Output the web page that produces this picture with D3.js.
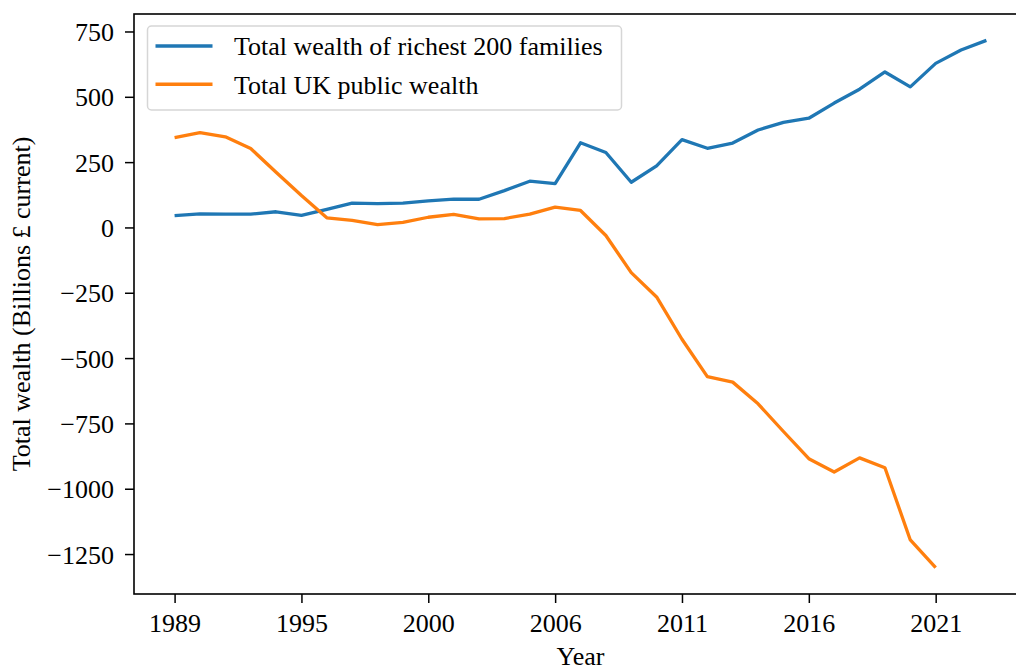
<!DOCTYPE html>
<html>
<head>
<meta charset="utf-8">
<script src="https://cdn.jsdelivr.net/npm/d3@7"></script>
<style>
  body { margin: 0; background: #fff; }
  svg { display: block; font-family: "Liberation Serif", "Times New Roman", serif; }
</style>
</head>
<body>
<div id="chart"></div>
<script>
// years on the x axis (plotted by index, every 5th labelled)
const years = [1989, 1990, 1991, 1992, 1993, 1995, 1996, 1997, 1998, 1999,
               2000, 2001, 2002, 2004, 2005, 2006, 2007, 2008, 2009, 2010,
               2011, 2012, 2013, 2014, 2015, 2016, 2017, 2018, 2019, 2020,
               2021, 2022, 2023];

// Billions £ current
const richest200 = [45, 52, 51, 51, 60, 46, 69, 93, 91, 93,
                    102, 108, 108, 141, 177, 168, 324, 287, 173, 236,
                    336, 303, 323, 373, 402, 418, 476, 529, 595, 538,
                    628, 679, 716];

const publicWealth = [344, 363, 347, 302, 211, 122, 37, 27, 11, 19,
                      39, 50, 33, 34, 51, 78, 65, -31, -173, -266,
                      -428, -571, -592, -675, -781, -885, -936, -882, -920, -1196,
                      -1302];

const yTicks = [750, 500, 250, 0, -250, -500, -750, -1000, -1250];
const seriesNames = ["Total wealth of richest 200 families", "Total UK public wealth"];
const colors = ["#1f77b4", "#ff7f0e"];

const width = 1016, height = 669;
const mLeft = 134, mRight = 1027, mTop = 14, mBottom = 594;
const fontSize = "26px";

const svg = d3.select("#chart").append("svg")
    .attr("width", width)
    .attr("height", height);

// matplotlib-like 5% margins
const n = years.length - 1;
const x = d3.scaleLinear()
    .domain([-0.05 * n, n * 1.05])
    .range([mLeft, mRight]);

const allVals = richest200.concat(publicWealth);
const yMin = d3.min(allVals), yMax = d3.max(allVals);
const pad = (yMax - yMin) * 0.05;
const y = d3.scaleLinear()
    .domain([yMin - pad, yMax + pad])
    .range([mBottom, mTop]);

const line = d3.line()
    .x((d, i) => x(i))
    .y(d => y(d));

svg.append("g")
    .selectAll("path")
    .data([richest200, publicWealth])
    .join("path")
    .attr("fill", "none")
    .attr("stroke", (d, i) => colors[i])
    .attr("stroke-width", 3.3)
    .attr("stroke-linejoin", "round")
    .attr("d", line);

// axes
const fmt = v => v < 0 ? "\u2212" + Math.abs(v) : String(v);

const xAxis = svg.append("g")
    .attr("transform", `translate(0,${mBottom})`)
    .call(d3.axisBottom(x)
        .tickValues(d3.range(0, years.length, 5))
        .tickFormat(i => years[i])
        .tickSize(9)
        .tickPadding(11));

const yAxis = svg.append("g")
    .attr("transform", `translate(${mLeft},0)`)
    .call(d3.axisLeft(y)
        .tickValues(yTicks)
        .tickFormat(fmt)
        .tickSize(9)
        .tickPadding(11));

[xAxis, yAxis].forEach(g => {
    g.select(".domain").remove();
    g.selectAll(".tick line").attr("stroke", "#000").attr("stroke-width", 1.5);
    g.selectAll(".tick text")
        .attr("fill", "#000")
        .style("font-size", fontSize)
        .style("font-family", "'Liberation Serif', serif");
});
yAxis.selectAll(".tick text").attr("dy", "0.35em");

// frame
svg.append("rect")
    .attr("x", mLeft)
    .attr("y", mTop)
    .attr("width", mRight - mLeft)
    .attr("height", mBottom - mTop)
    .attr("fill", "none")
    .attr("stroke", "#000")
    .attr("stroke-width", 1.6);

// axis labels
svg.append("text")
    .attr("x", (mLeft + mRight) / 2)
    .attr("y", 665)
    .attr("text-anchor", "middle")
    .style("font-size", fontSize)
    .text("Year");

svg.append("text")
    .attr("transform", `translate(30,${(mTop + mBottom) / 2}) rotate(-90)`)
    .attr("text-anchor", "middle")
    .style("font-size", fontSize)
    .text("Total wealth (Billions £ current)");

// legend
const legend = svg.append("g").attr("transform", "translate(147.5,26)");
legend.append("rect")
    .attr("width", 474)
    .attr("height", 84)
    .attr("rx", 4)
    .attr("fill", "#fff")
    .attr("fill-opacity", 0.8)
    .attr("stroke", "#d6d6d6")
    .attr("stroke-width", 1.5);

const item = legend.selectAll("g.item")
    .data(seriesNames)
    .join("g")
    .attr("class", "item")
    .attr("transform", (d, i) => `translate(0,${20 + i * 38.3})`);

item.append("line")
    .attr("x1", 8).attr("x2", 65)
    .attr("stroke", (d, i) => colors[i])
    .attr("stroke-width", 3.6);

item.append("text")
    .attr("x", 86.5)
    .attr("dy", "0.36em")
    .style("font-size", fontSize)
    .text(d => d);
</script>
</body>
</html>
